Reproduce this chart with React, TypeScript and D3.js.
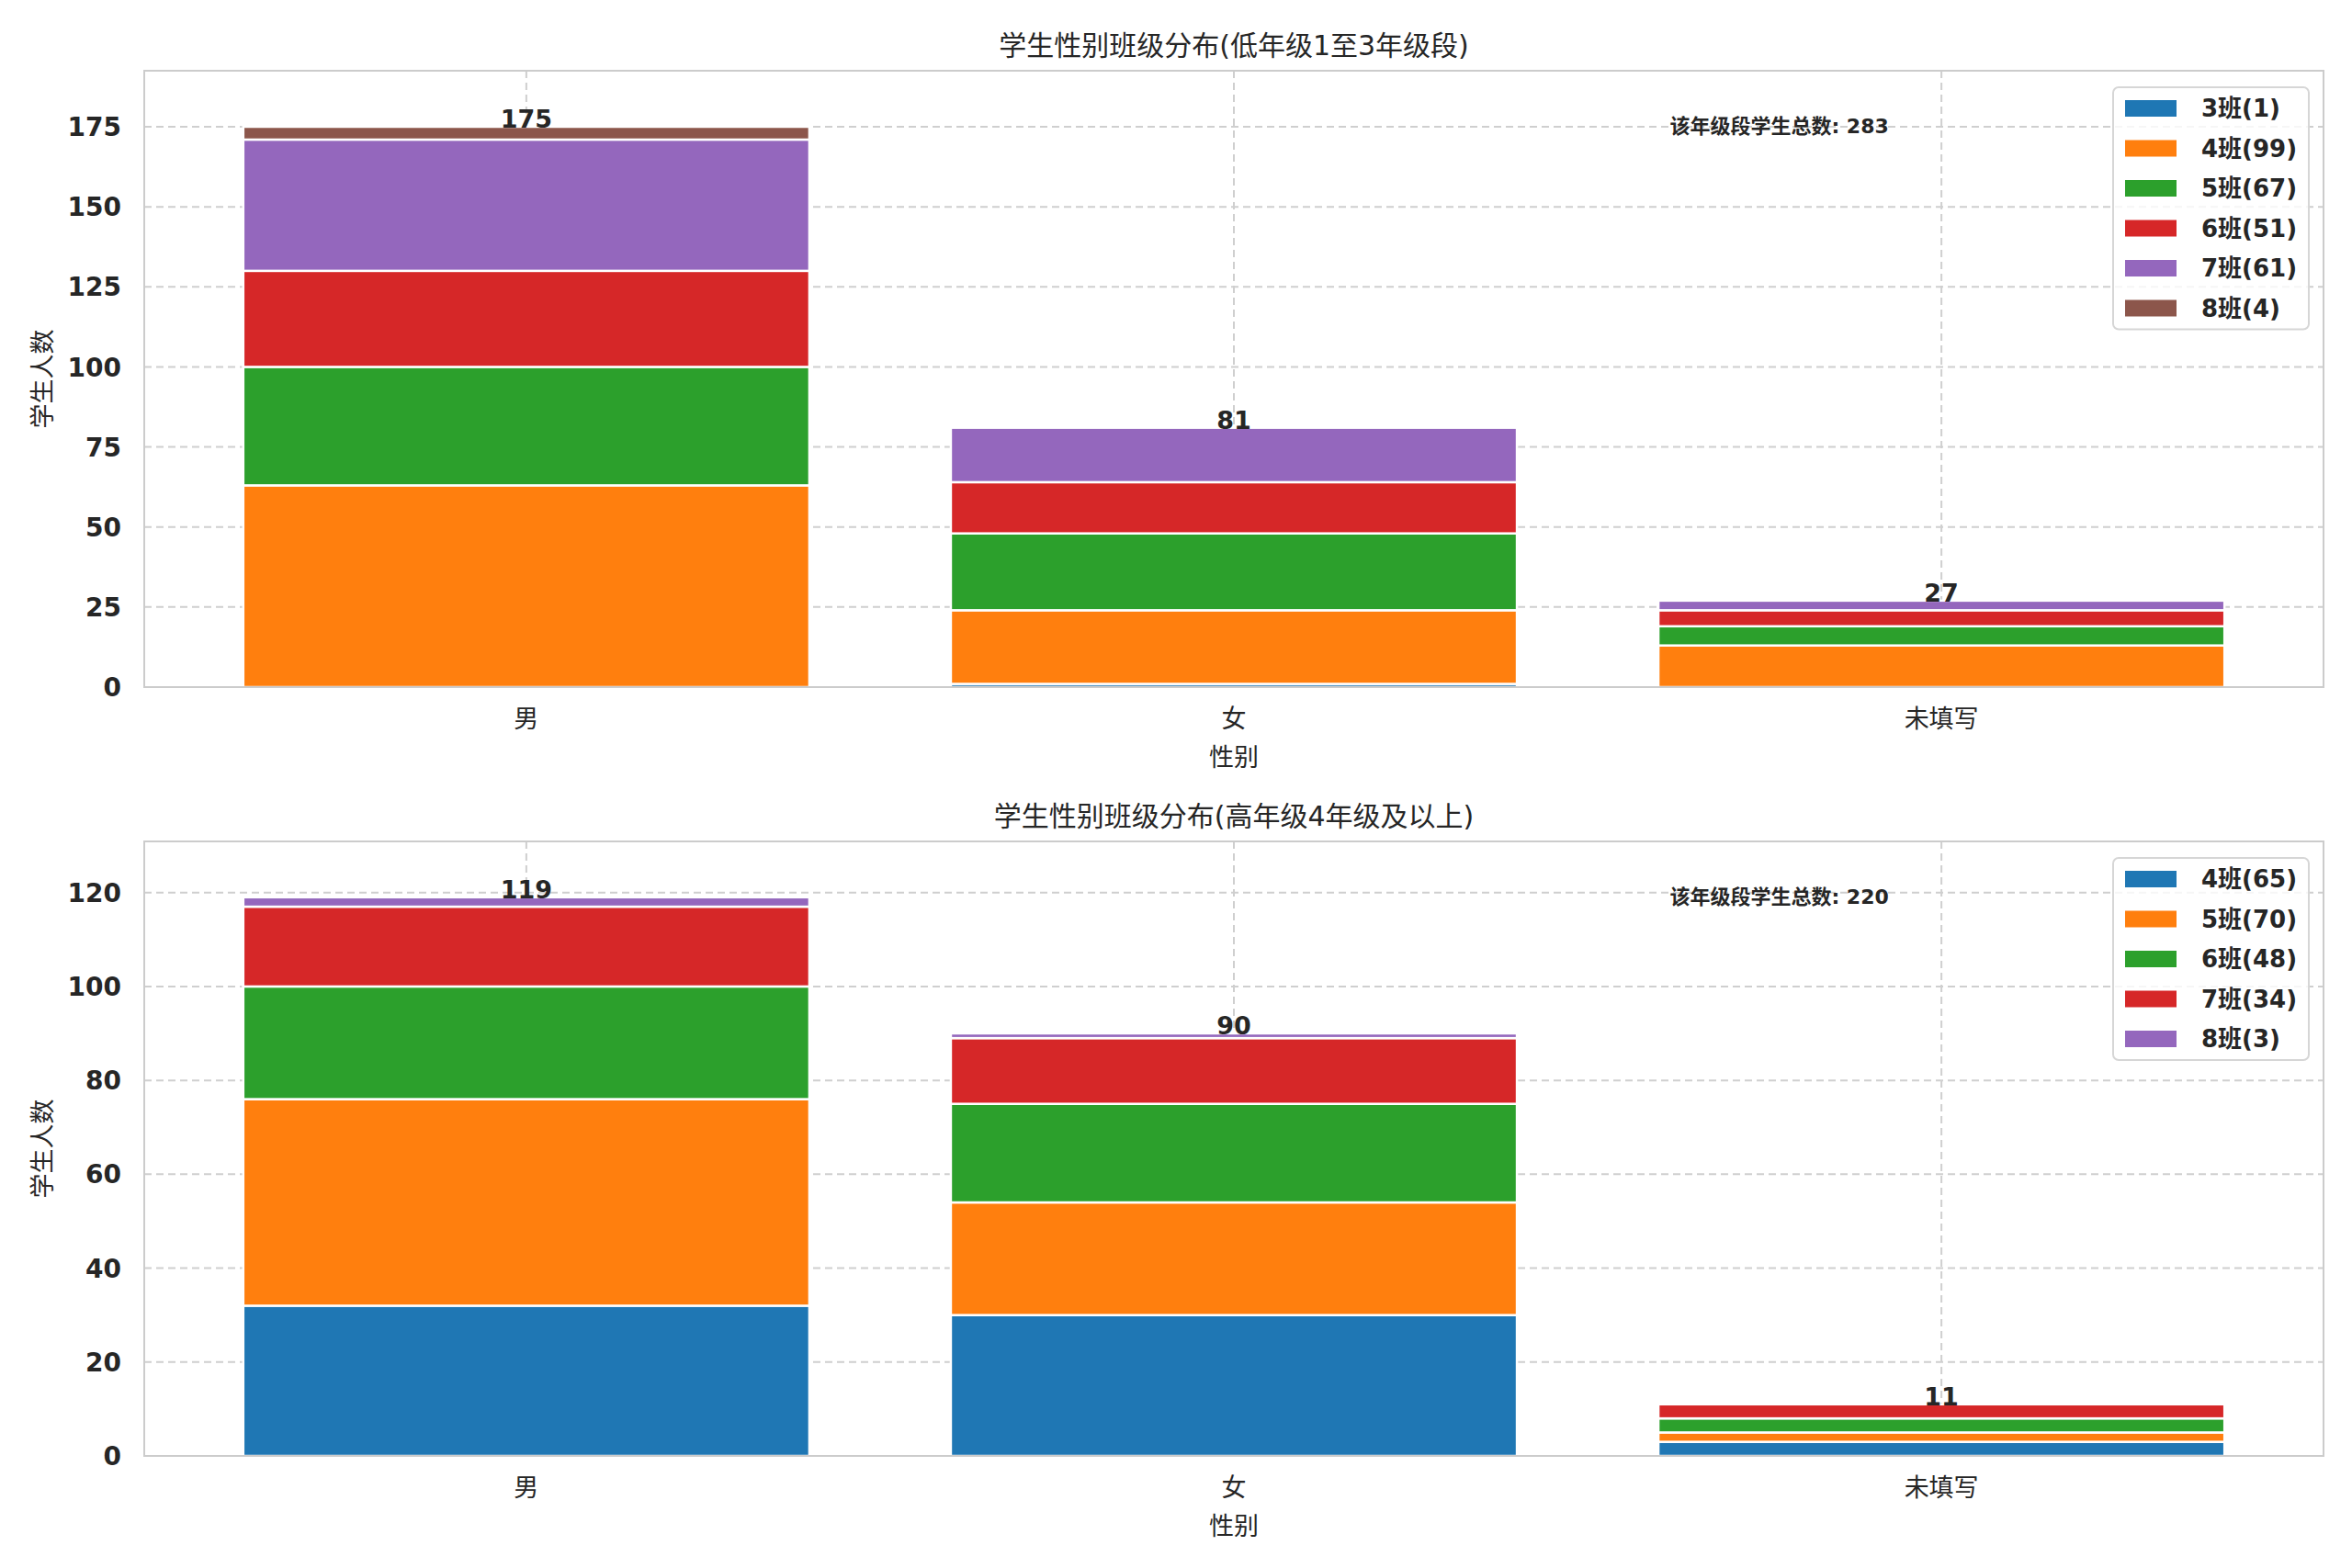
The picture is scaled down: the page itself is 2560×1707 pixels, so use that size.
import React, { useEffect } from "react";
import * as d3 from "d3";

// ---------- data ----------
const categories = ["男", "女", "未填写"];

const lowerKeys = ["3", "4", "5", "6", "7", "8"];
const lowerValues: number[][] = [
  [0, 1, 0],     // 3
  [63, 23, 13],  // 4
  [37, 24, 6],   // 5
  [30, 16, 5],   // 6
  [41, 17, 3],   // 7
  [4, 0, 0],     // 8
];

const upperKeys = ["4", "5", "6", "7", "8"];
const upperValues: number[][] = [
  [32, 30, 3],   // 4
  [44, 24, 2],   // 5
  [24, 21, 3],   // 6
  [17, 14, 3],   // 7
  [2, 1, 0],     // 8
];

const lowerTicks = [0, 25, 50, 75, 100, 125, 150, 175];
const upperTicks = [0, 20, 40, 60, 80, 100, 120];

const titles = ["学生性别班级分布(低年级1至3年级段)", "学生性别班级分布(高年级4年级及以上)"];
const annotationLabel = "该年级段学生总数";
const unitLabel = "班";
const xAxisLabel = "性别";
const yAxisLabel = "学生人数";

const palette = ["#1f77b4", "#ff7f0e", "#2ca02c", "#d62728", "#9467bd", "#8c564b"];

// ---------- layout ----------
const W = 2560;
const H = 1707;
const LEFT = 157;
const RIGHT = 2529;
const panels = [
  { top: 77, bottom: 748 },
  { top: 916, bottom: 1585 },
];

const TEXT = "#262626";
const FONT = "'DejaVu Sans', 'Noto Sans CJK SC', sans-serif";

type PanelProps = {
  keys: string[];
  values: number[][];
  ticks: number[];
  title: string;
  top: number;
  bottom: number;
};

function Panel({ keys, values, ticks, title, top, bottom }: PanelProps) {
  const rows = categories.map((c, i) => {
    const r: Record<string, number | string> = { cat: c };
    keys.forEach((k, j) => (r[k] = values[j][i]));
    return r;
  });
  const stack = d3.stack<Record<string, any>>().keys(keys);
  const series = stack(rows as any);
  const totals = categories.map((_, i) => d3.sum(values, (v) => v[i]));
  const seriesTotals = values.map((v) => d3.sum(v));
  const grand = d3.sum(seriesTotals);

  const x = d3.scaleLinear().domain([-0.54, 2.54]).range([LEFT, RIGHT]);
  const y = d3.scaleLinear().domain([0, (d3.max(totals) as number) * 1.1]).range([bottom, top]);
  const barW = x(0.8) - x(0);
  const plotW = RIGHT - LEFT;
  const plotH = bottom - top;

  const legendTop = top + 18;
  const legendLeft = 2300;
  const legendRight = 2513;
  const rowGap = 43.5;
  const legendH = 46 + (keys.length - 1) * rowGap;

  return (
    <g>
      <rect x={LEFT} y={top} width={plotW} height={plotH} fill="#ffffff" />
      {/* grid */}
      {ticks.map((t) => (
        <line
          key={"gy" + t}
          x1={LEFT}
          x2={RIGHT}
          y1={y(t)}
          y2={y(t)}
          stroke="#cfcfcf"
          strokeWidth={2}
          strokeDasharray="8,5"
        />
      ))}
      {categories.map((c, i) => (
        <line
          key={"gx" + c}
          x1={x(i)}
          x2={x(i)}
          y1={top}
          y2={bottom}
          stroke="#cfcfcf"
          strokeWidth={2}
          strokeDasharray="8,5"
        />
      ))}
      {/* bars */}
      {series.map((s, si) => (
        <g key={"s" + si} fill={palette[si]}>
          {s.map((d, i) =>
            d[1] - d[0] > 0 ? (
              <rect
                key={i}
                x={x(i) - barW / 2}
                y={y(d[1])}
                width={barW}
                height={y(d[0]) - y(d[1])}
                stroke="#ffffff"
                strokeWidth={2.5}
              />
            ) : null
          )}
        </g>
      ))}
      {/* spines */}
      <rect x={LEFT} y={top} width={plotW} height={plotH} fill="none" stroke="#cccccc" strokeWidth={2} />
      {/* value labels */}
      {totals.map((t, i) => (
        <text
          key={"v" + i}
          x={x(i)}
          y={y(t) + 1}
          textAnchor="middle"
          fontFamily={FONT}
          fontWeight="bold"
          fontSize={27}
          fill={TEXT}
        >
          {t}
        </text>
      ))}
      {/* y ticks */}
      {ticks.map((t) => (
        <text
          key={"ty" + t}
          x={LEFT - 25}
          y={y(t)}
          dy="0.36em"
          textAnchor="end"
          fontFamily={FONT}
          fontWeight="bold"
          fontSize={28}
          fill={TEXT}
        >
          {t}
        </text>
      ))}
      {/* x ticks */}
      {categories.map((c, i) => (
        <text
          key={"tx" + c}
          x={x(i)}
          y={bottom + 34}
          dy="0.36em"
          textAnchor="middle"
          fontFamily={FONT}
          fontSize={27}
          fill={TEXT}
        >
          {c}
        </text>
      ))}
      {/* axis labels */}
      <text
        x={(LEFT + RIGHT) / 2}
        y={bottom + 76}
        dy="0.36em"
        textAnchor="middle"
        fontFamily={FONT}
        fontSize={27}
        fill={TEXT}
      >
        {xAxisLabel}
      </text>
      <text
        transform={`translate(46,${(top + bottom) / 2}) rotate(-90)`}
        dy="0.36em"
        textAnchor="middle"
        fontFamily={FONT}
        fontSize={27}
        fill={TEXT}
      >
        {yAxisLabel}
      </text>
      {/* title */}
      <text
        x={(LEFT + RIGHT) / 2}
        y={top - 28}
        dy="0.36em"
        textAnchor="middle"
        fontFamily={FONT}
        fontSize={30}
        fill={TEXT}
      >
        {title}
      </text>
      {/* annotation */}
      <text
        x={LEFT + 0.7 * plotW}
        y={bottom - 0.91 * plotH}
        dy="0.36em"
        fontFamily={FONT}
        fontWeight="bold"
        fontSize={22}
        fill={TEXT}
      >
        {`${annotationLabel}: ${grand}`}
      </text>
      {/* legend */}
      <rect
        x={legendLeft}
        y={legendTop}
        width={legendRight - legendLeft}
        height={legendH}
        rx={6}
        fill="#ffffff"
        fillOpacity={0.8}
        stroke="#d6d6d6"
        strokeWidth={2}
      />
      {keys.map((k, i) => {
        const cy = legendTop + 23 + i * rowGap;
        return (
          <g key={"lg" + k}>
            <rect x={legendLeft + 13} y={cy - 9} width={56} height={18} fill={palette[i]} />
            <text
              x={legendLeft + 96}
              y={cy}
              dy="0.36em"
              fontFamily={FONT}
              fontWeight="bold"
              fontSize={26}
              fill={TEXT}
            >
              {`${k}${unitLabel}(${seriesTotals[i]})`}
            </text>
          </g>
        );
      })}
    </g>
  );
}

export default function App() {
  useEffect(() => {
    document.body.style.margin = "0";
  }, []);
  return (
    <svg
      width={W}
      height={H}
      viewBox={`0 0 ${W} ${H}`}
      style={{ display: "block", position: "absolute", left: 0, top: 0, background: "#ffffff" }}
    >
      <rect x={0} y={0} width={W} height={H} fill="#ffffff" />
      <Panel
        keys={lowerKeys}
        values={lowerValues}
        ticks={lowerTicks}
        title={titles[0]}
        top={panels[0].top}
        bottom={panels[0].bottom}
      />
      <Panel
        keys={upperKeys}
        values={upperValues}
        ticks={upperTicks}
        title={titles[1]}
        top={panels[1].top}
        bottom={panels[1].bottom}
      />
    </svg>
  );
}
